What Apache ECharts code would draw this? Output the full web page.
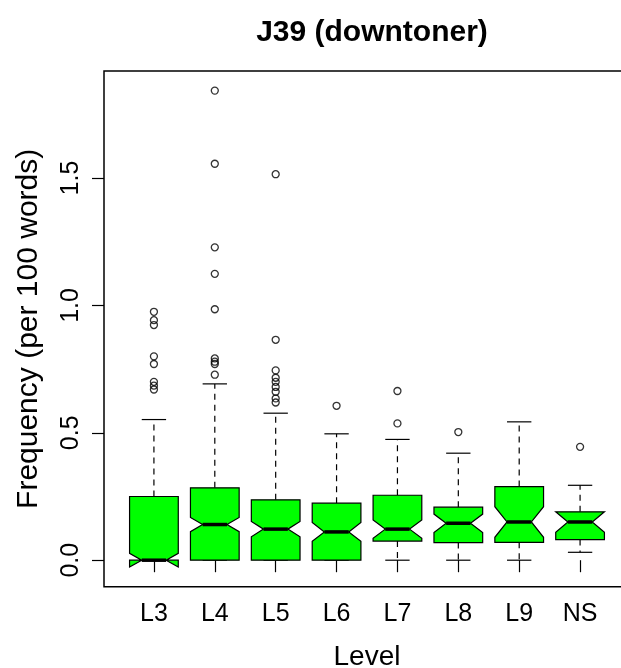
<!DOCTYPE html>
<html>
<head>
<meta charset="utf-8">
<script src="https://cdn.jsdelivr.net/npm/echarts@6/dist/echarts.min.js"></script>
<style>
  html, body { margin: 0; padding: 0; background: #fff; overflow: hidden; }
  #chart { width: 621px; height: 668px; }
</style>
</head>
<body>
<div id="chart"></div>
<script>
// Levels shown on the x axis
const categories = ['L3', 'L4', 'L5', 'L6', 'L7', 'L8', 'L9', 'NS'];

// Box statistics per level (frequency per 100 words)
const whiskerLow  = [0.000, 0.000, 0.000, 0.000, 0.000, 0.000, 0.000, 0.031];
const quartile1   = [0.000, 0.000, 0.000, 0.000, 0.075, 0.069, 0.070, 0.081];
const medians     = [0.000, 0.140, 0.122, 0.111, 0.122, 0.145, 0.150, 0.150];
const quartile3   = [0.250, 0.284, 0.237, 0.224, 0.255, 0.208, 0.289, 0.190];
const whiskerHigh = [0.552, 0.692, 0.577, 0.496, 0.474, 0.420, 0.543, 0.294];

// Notch limits around each median
const notchLow  = [-0.027, 0.112, 0.092, 0.074, 0.086, 0.109, 0.090, 0.110];
const notchHigh = [ 0.027, 0.168, 0.152, 0.148, 0.158, 0.181, 0.210, 0.190];

// Points beyond the whiskers
const outliers = [
  [0.975, 0.942, 0.923, 0.800, 0.770, 0.700, 0.685, 0.670],
  [1.843, 1.556, 1.228, 1.124, 0.985, 0.792, 0.779, 0.770, 0.728],
  [1.515, 0.865, 0.745, 0.716, 0.700, 0.680, 0.661, 0.635, 0.619],
  [0.606],
  [0.664, 0.537],
  [0.503],
  [],
  [0.445]
];

const yTicks = [0, 0.5, 1.0, 1.5];

const FONT = "'Liberation Sans', Arial, Helvetica, sans-serif";
const BOX_HALF = 0.4, NOTCH_HALF = 0.2, STAPLE_HALF = 0.2;

const boxData = categories.map((c, i) => [
  i + 1, whiskerLow[i], quartile1[i], medians[i], quartile3[i], whiskerHigh[i], notchLow[i], notchHigh[i]
]);

const outlierData = [];
outliers.forEach((vals, i) => vals.forEach(v => outlierData.push([i + 1, v])));

function renderBox(params, api) {
  const x = api.value(0);
  const wl = api.value(1), q1 = api.value(2), md = api.value(3),
        q3 = api.value(4), wh = api.value(5), nl = api.value(6), nh = api.value(7);
  const P = (dx, v) => api.coord([x + dx, v]);
  const outline = { stroke: '#000', lineWidth: 1.2 };
  const dashed = { stroke: '#000', lineWidth: 1.2, lineDash: [6, 5] };
  const seg = (a, b, style) => ({ type: 'line', shape: { x1: a[0], y1: a[1], x2: b[0], y2: b[1] }, style });
  const children = [];
  // whiskers (dashed) with their staples
  if (wh > q3) children.push(seg(P(0, q3), P(0, wh), dashed));
  children.push(seg(P(-STAPLE_HALF, wh), P(STAPLE_HALF, wh), outline));
  if (wl < q1) children.push(seg(P(0, q1), P(0, wl), dashed));
  children.push(seg(P(-STAPLE_HALF, wl), P(STAPLE_HALF, wl), outline));
  // notched box
  const pts = [
    P(-BOX_HALF, q1), P(-BOX_HALF, nl), P(-NOTCH_HALF, md), P(-BOX_HALF, nh), P(-BOX_HALF, q3),
    P(BOX_HALF, q3), P(BOX_HALF, nh), P(NOTCH_HALF, md), P(BOX_HALF, nl), P(BOX_HALF, q1)
  ];
  children.push({ type: 'polygon', shape: { points: pts }, style: { fill: '#00ff00', stroke: '#000', lineWidth: 1.2 } });
  // median bar
  children.push(seg(P(-NOTCH_HALF, md), P(NOTCH_HALF, md), { stroke: '#000', lineWidth: 3.5 }));
  return { type: 'group', children };
}

const chart = echarts.init(document.getElementById('chart'), null, { renderer: 'canvas' });
chart.setOption({
  animation: false,
  backgroundColor: '#fff',
  title: {
    text: 'J39 (downtoner)',
    left: 367, top: 13, textAlign: 'center',
    textStyle: { fontFamily: FONT, fontWeight: 'bold', fontSize: 30, color: '#000' }
  },
  grid: {
    left: 104, top: 71, width: 526, height: 515.7,
    outerBoundsMode: 'none', containLabel: false,
    show: true, borderColor: '#000', borderWidth: 1.5, backgroundColor: 'transparent'
  },
  xAxis: {
    type: 'value', min: 0.18, max: 8.82,
    name: 'Level', nameLocation: 'middle', nameGap: 57,
    nameTextStyle: { fontFamily: FONT, fontSize: 28, color: '#000' },
    axisLine: { show: false },
    splitLine: { show: false },
    axisTick: { show: true, length: 12, lineStyle: { color: '#000', width: 1.2 }, customValues: [1, 2, 3, 4, 5, 6, 7, 8] },
    axisLabel: {
      fontFamily: FONT, fontSize: 25, color: '#000', margin: 15,
      customValues: [1, 2, 3, 4, 5, 6, 7, 8],
      formatter: v => categories[Math.round(v) - 1] || ''
    }
  },
  yAxis: {
    type: 'value', min: -0.104, max: 1.92,
    name: 'Frequency (per 100 words)', nameLocation: 'middle', nameGap: 60, nameRotate: 90,
    nameTextStyle: { fontFamily: FONT, fontSize: 30, color: '#000' },
    axisLine: { show: false },
    splitLine: { show: false },
    axisTick: { show: true, length: 12, lineStyle: { color: '#000', width: 1.2 }, customValues: yTicks },
    axisLabel: {
      fontFamily: FONT, fontSize: 25, color: '#000', rotate: 90, margin: 20,
      customValues: yTicks,
      formatter: v => v.toFixed(1)
    }
  },
  series: [
    {
      type: 'custom', name: 'boxes', renderItem: renderBox, data: boxData,
      encode: { x: 0, y: [1, 2, 3, 4, 5, 6, 7] }, z: 2
    },
    {
      type: 'scatter', name: 'outliers', data: outlierData,
      symbol: 'circle', symbolSize: 7,
      itemStyle: { color: 'transparent', borderColor: '#000', borderWidth: 1.3 }, z: 3
    }
  ]
});
</script>
</body>
</html>
